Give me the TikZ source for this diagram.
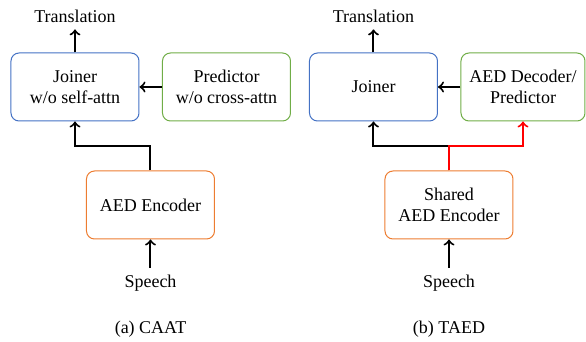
\documentclass[tikz,border=0pt]{standalone}
\usepackage{fontspec}
\setmainfont{Liberation Serif}
\usepackage{xcolor}
\usepackage{tikz}
\usetikzlibrary{positioning,calc,arrows}

\definecolor{boxblue}{RGB}{68,114,196}
\definecolor{boxgreen}{RGB}{112,173,71}
\definecolor{boxorange}{RGB}{237,125,49}

\begin{document}
\begin{tikzpicture}
                    [
                        x=0.5pt, y=-0.5pt,
                        every node/.style={font=\fontsize{9}{10.5}\selectfont, align=center},
                        block/.style={draw, rounded corners=4pt, line width=0.5pt, minimum width=64pt, minimum height=34pt},
                        link/.style={->, line width=1pt},
                        redlink/.style={->, line width=1pt, draw=red}
                    ]

                    % Rahmen
                    \useasboundingbox (0,0) rectangle (586,342);

                    % (a) CAAT
                    \node[block, draw=boxblue] (joinerA) at (75,87) {Joiner\\w/o self-attn};
                    \node[block, draw=boxgreen] (predA) at (226.5,87) {Predictor\\w/o cross-attn};
                    \node[block, draw=boxorange] (encA) at (150.5,205) {AED Encoder};
                    \node (transA) at (75,16) {Translation};
                    \node (speechA) at (150.5,283) {Speech};
                    \node (capA) at (150.5,329) {(a) CAAT};

                    \draw[link] (joinerA.north) -- (transA.south);
                    \draw[link] (predA.west) -- (joinerA.east);
                    \draw[link] (encA.north) -- ++(0,-24) -| (joinerA.south);
                    \draw[link] (speechA.north) -- (encA.south);

                    % (b) TAED
                    \node[block, draw=boxblue] (joinerB) at (373.5,87) {Joiner};
                    \node[block, draw=boxgreen, minimum width=62pt] (decB) at (523,87) {AED Decoder/\\Predictor};
                    \node[block, draw=boxorange] (encB) at (449,205) {Shared\\AED Encoder};
                    \node (transB) at (373.5,16) {Translation};
                    \node (speechB) at (449,283) {Speech};
                    \node (capB) at (449,329) {(b) TAED};

                    \draw[link] (joinerB.north) -- (transB.south);
                    \draw[link] (decB.west) -- (joinerB.east);
                    \draw[link] (encB.north) -- ++(0,-24) -| (joinerB.south);
                    \draw[redlink] (encB.north) -- ++(0,-24) -| (decB.south);
                    \draw[link] (speechB.north) -- (encB.south);
                \end{tikzpicture}
\end{document}
